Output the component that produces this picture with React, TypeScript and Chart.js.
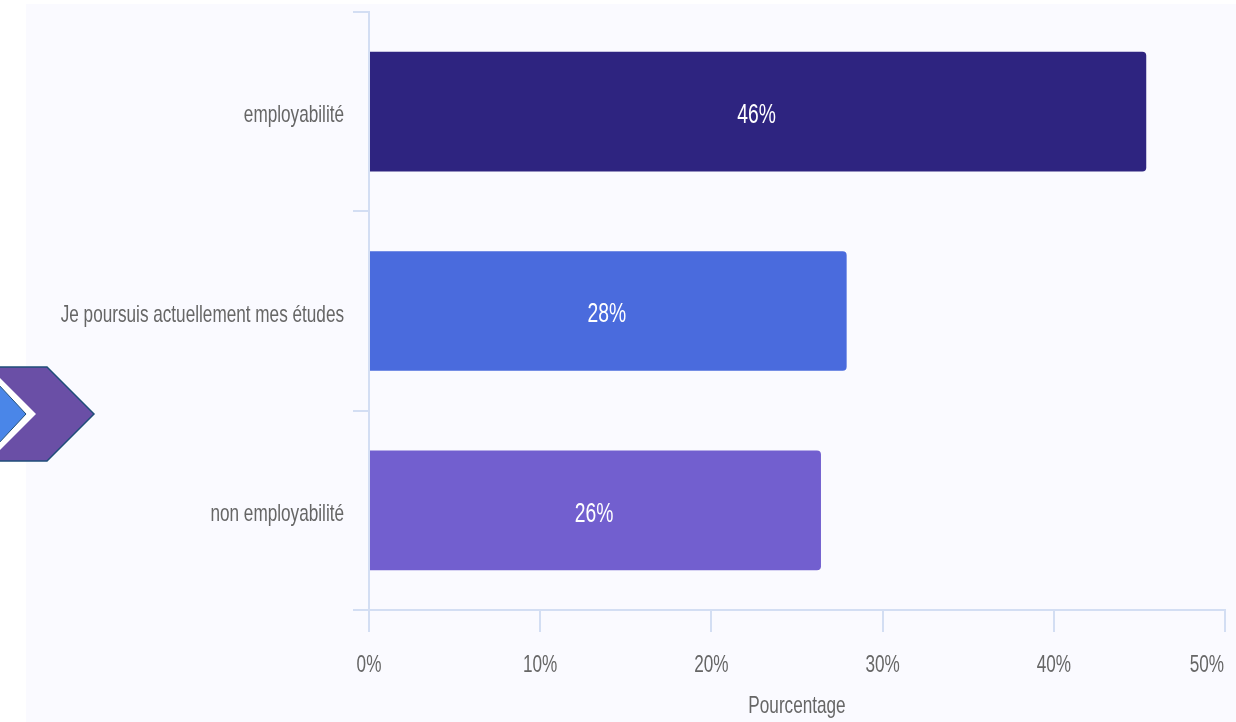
import React, { useEffect, useRef } from "react";
import { Chart, registerables } from "chart.js";

Chart.register(...registerables);

const categories = ["employabilité", "Je poursuis actuellement mes études", "non employabilité"];
const values = [45.4, 27.9, 26.4];
const valueLabels = ["46%", "28%", "26%"];
const barColors = ["#2E2480", "#4A6BDD", "#725FCF"];
const axisTitle = "Pourcentage";

const FONT = '"Liberation Sans", Arial, sans-serif';
const AXIS = "#D3DEF3";
const TEXT_SQUEEZE = 0.715;
const TEXT_SHIFT = 4;
const TEXT_RIGHT_LIMIT = 1224;

const barLabels = {
  id: "barLabels",
  afterDatasetsDraw(chart: any) {
    const { ctx } = chart;
    chart.getDatasetMeta(0).data.forEach((bar: any, i: number) => {
      ctx.save();
      ctx.fillStyle = "#FFFFFF";
      ctx.font = `27px ${FONT}`;
      ctx.textAlign = "center";
      ctx.textBaseline = "middle";
      ctx.fillText(valueLabels[i], (bar.x + bar.base) / 2 - 1.5, bar.y);
      ctx.restore();
    });
  },
};

export default function App() {
  const ref = useRef<HTMLCanvasElement>(null);
  useEffect(() => {
    document.body.style.margin = "0";
    document.body.style.background = "#FFFFFF";
    const canvas = ref.current!;
    const context: any = canvas.getContext("2d");
    const fillTextOriginal = context.fillText.bind(context);
    // The reference text is horizontally condensed: squeeze every string about its anchor,
    // and keep centred strings inside the plot's right edge.
    context.fillText = (text: string, x: number, y: number) => {
      let drawX = x;
      if (context.textAlign === "center") {
        const half = (context.measureText(text).width * TEXT_SQUEEZE) / 2;
        const absoluteX = context.getTransform().e + x;
        if (absoluteX + half > TEXT_RIGHT_LIMIT) drawX = x - (absoluteX + half - TEXT_RIGHT_LIMIT);
      }
      context.save();
      context.translate(drawX, y + TEXT_SHIFT);
      context.scale(TEXT_SQUEEZE, 1);
      fillTextOriginal(text, 0, 0);
      context.restore();
    };
    const chart = new Chart(canvas, {
      type: "bar",
      data: {
        labels: categories,
        datasets: [
          {
            data: values,
            backgroundColor: barColors,
            borderRadius: { topRight: 4, bottomRight: 4 },
            borderSkipped: false,
            barPercentage: 0.6,
            categoryPercentage: 1,
          },
        ],
      },
      plugins: [barLabels],
      options: {
        indexAxis: "y",
        animation: false,
        responsive: false,
        layout: { autoPadding: false, padding: { top: 12, right: 11, bottom: 0, left: 0 } },
        plugins: { legend: { display: false }, tooltip: { enabled: false } },
        scales: {
          x: {
            min: 0,
            max: 50,
            afterFit(s: any) {
              s.height = 112;
              s.paddingLeft = 0;
              s.paddingRight = 0;
            },
            grid: { drawOnChartArea: false, color: AXIS, tickLength: 22, lineWidth: 2 },
            border: { color: AXIS, width: 2 },
            ticks: {
              stepSize: 10,
              color: "#666666",
              font: { family: FONT, size: 24 },
              padding: 15,
              maxRotation: 0,
              callback: (v: any) => `${v}%`,
            },
            title: {
              display: true,
              text: axisTitle,
              color: "#666666",
              font: { family: FONT, size: 24 },
              padding: { top: 4, bottom: 5 },
            },
          },
          y: {
            afterFit(s: any) {
              s.width = 369;
              s.paddingTop = 0;
              s.paddingBottom = 0;
            },
            grid: { drawOnChartArea: false, color: AXIS, tickLength: 16, lineWidth: 2 },
            border: { color: AXIS, width: 2 },
            ticks: {
              color: "#666666",
              font: { family: FONT, size: 24 },
              padding: 9,
              autoSkip: false,
            },
          },
        },
      } as any,
    });
    return () => chart.destroy();
  }, []);

  return (
    <div style={{ position: "relative", width: 1236, height: 722, background: "#FFFFFF", overflow: "hidden" }}>
      <div style={{ position: "absolute", left: 26, top: 4, width: 1210, height: 718, background: "#FAFAFF" }} />
      <canvas ref={ref} width={1236} height={722} style={{ position: "absolute", left: 0, top: 0 }} />
      <svg width={1236} height={722} style={{ position: "absolute", left: 0, top: 0 }}>
        <polygon points="-20,367 47,367 94,414 47,461 -20,461" fill="#6A4FA6" stroke="#1F4E79" strokeWidth={1.5} />
        <polygon points="-30,348 36,414 -30,480" fill="#FFFFFF" />
        <polygon points="-30,354 26,414 -30,474" fill="#4A86E8" stroke="#1F4E79" strokeWidth={1} />
      </svg>
    </div>
  );
}
